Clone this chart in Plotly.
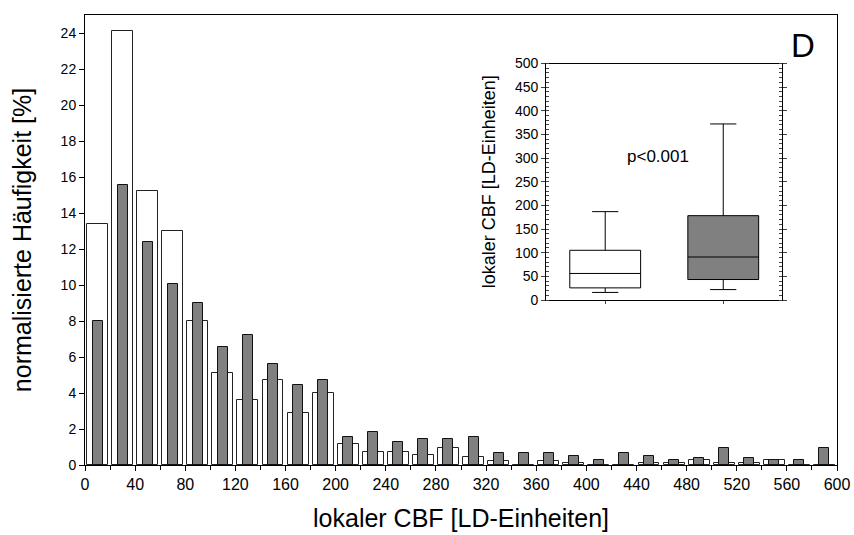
import plotly.graph_objects as go

bin_centers = [10 + 20 * i for i in range(30)]
white_vals = [13.4, 24.1, 15.2, 13.0, 8.0, 5.1, 3.6, 4.7, 2.9, 4.0,
              1.15, 0.7, 0.7, 0.57, 0.93, 0.46, 0.24, 0.0, 0.24, 0.13,
              0.0, 0.0, 0.13, 0.13, 0.26, 0.13, 0.13, 0.26, 0.0, 0.0]
gray_vals = [8.0, 15.55, 12.4, 10.05, 9.0, 6.55, 7.2, 5.6, 4.45, 4.7,
             1.56, 1.81, 1.3, 1.43, 1.43, 1.56, 0.65, 0.65, 0.65, 0.52,
             0.26, 0.65, 0.52, 0.26, 0.39, 0.93, 0.39, 0.26, 0.26, 0.93]

# inset box plot stats
box_pos = [1, 2]
box_low = [16, 22]
box_q1 = [25.6, 43.3]
box_med = [56.1, 90.9]
box_q3 = [105.1, 178.3]
box_high = [186.8, 372.2]

FONT = "Liberation Sans, Arial, sans-serif"

L, R, T, B = 84.5, 16.5, 15, 70
PW = 854 - L - R
PH = 535 - T - B

fig = go.Figure()
fig.add_trace(go.Bar(x=bin_centers, y=white_vals, width=16.7,
                     marker=dict(color="white", line=dict(color="#222", width=1)),
                     showlegend=False))
fig.add_trace(go.Bar(x=bin_centers, y=gray_vals, width=8,
                     marker=dict(color="#808080", line=dict(color="#111", width=1)),
                     showlegend=False))

fills = ["white", "#808080"]
for i in range(2):
    fig.add_trace(go.Box(x=[box_pos[i]], q1=[box_q1[i]], median=[box_med[i]], q3=[box_q3[i]],
                         lowerfence=[box_low[i]], upperfence=[box_high[i]],
                         width=0.6, whiskerwidth=0.37, fillcolor=fills[i],
                         line=dict(color="black", width=1), xaxis="x2", yaxis="y2",
                         showlegend=False, boxpoints=False, hoverinfo="skip"))

fig.update_layout(
    template="none",
    width=854, height=535,
    margin=dict(l=L, r=R, t=T, b=B, autoexpand=False),
    paper_bgcolor="white", plot_bgcolor="white",
    barmode="overlay", bargap=0,
    font=dict(family=FONT, color="black"),
    xaxis=dict(range=[0, 600], tickvals=list(range(0, 601, 40)), automargin=False,
               ticks="outside", ticklen=5, tickcolor="black",
               minor=dict(dtick=20, tick0=0, ticks="outside", ticklen=4, tickcolor="black"),
               showline=True, linecolor="black", linewidth=1, mirror=True,
               showgrid=False, zeroline=False,
               tickfont=dict(size=16),
               title=dict(text="lokaler CBF [LD-Einheiten]", font=dict(size=25), standoff=17)),
    yaxis=dict(range=[0, 25], tickvals=list(range(0, 25, 2)), automargin=False,
               ticks="outside", ticklen=5, tickcolor="black",
               showline=True, linecolor="black", linewidth=1, mirror=True,
               showgrid=False, zeroline=False,
               tickfont=dict(size=14),
               title=dict(text="normalisierte Häufigkeit [%]", font=dict(size=25), standoff=21)),
    xaxis2=dict(domain=[(546.3 - L) / PW, (782.7 - L) / PW], anchor="y2", range=[0.5, 2.5],
                tickvals=[1, 2], ticktext=["", ""], ticks="outside", ticklen=3, automargin=False,
                showline=True, linecolor="black", mirror=True, showgrid=False, zeroline=False),
    yaxis2=dict(domain=[(535 - B - 300) / PH, (535 - B - 63.5) / PH], anchor="x2", range=[0, 500],
                tickvals=list(range(0, 501, 50)), ticks="outside", ticklen=4, automargin=False,
                minor=dict(dtick=10, ticks="inside", ticklen=3, tickcolor="#444"),
                showline=True, linecolor="black", mirror="allticks", showgrid=False, zeroline=False,
                tickfont=dict(size=14),
                title=dict(text="lokaler CBF [LD-Einheiten]", font=dict(size=18), standoff=14)),
    annotations=[
        dict(text="p<0.001", x=1.445, y=303, xref="x2", yref="y2", showarrow=False,
             xanchor="center", yanchor="middle", font=dict(size=17)),
        dict(text="D", x=(803.5 - L) / PW, y=(535 - B - 45.5) / PH, xref="paper", yref="paper",
             xanchor="center", yanchor="middle", showarrow=False, font=dict(size=33)),
    ],
)

fig.write_html("out.html")
